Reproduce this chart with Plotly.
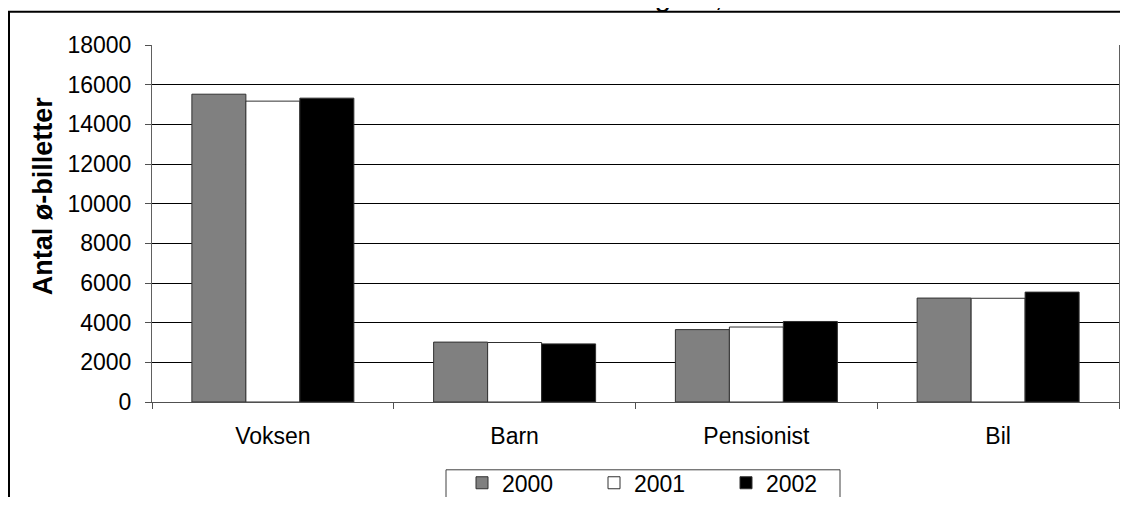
import plotly.graph_objects as go

categories = ["Voksen", "Barn", "Pensionist", "Bil"]
years = ["2000", "2001", "2002"]
values_2000 = [15520, 3020, 3650, 5240]
values_2001 = [15170, 3000, 3780, 5230]
values_2002 = [15320, 2930, 4060, 5540]
series_values = [values_2000, values_2001, values_2002]
bar_colors = ["#808080", "#ffffff", "#000000"]
y_tick_values = [0, 2000, 4000, 6000, 8000, 10000, 12000, 14000, 16000, 18000]
y_tick_labels = [str(v) for v in y_tick_values]
y_title = "Antal ø-billetter"
chart_title = "Antal ø-billetter til borgere, 2000-2002"

FONT = "Liberation Sans, Arial, sans-serif"

fig = go.Figure()
for name, vals, col in zip(years, series_values, bar_colors):
    fig.add_trace(go.Bar(
        x=categories, y=vals, name=name,
        marker=dict(color=col, line=dict(color="#303030", width=1)),
    ))

# The page body has an 8 px margin; size the figure so the page does not overflow.
OFF = 8
W, H = 1128 - 2 * OFF, 505 - 2 * OFF
# plot area in page pixels
PL, PR, PT, PB = 152, 1119, 44.7, 401.7
L = PL - OFF
T = PT - OFF
R = W - (PR - OFF)
B = H - (PB - OFF)
pw = PR - PL
ph = PB - PT

def px_x(x):
    return (x - PL) / pw

def px_y(y):
    return (PB - y) / ph

fig.update_layout(
    width=W, height=H,
    margin=dict(l=L, r=R, t=T, b=B, pad=0, autoexpand=False),
    paper_bgcolor="white", plot_bgcolor="white",
    font=dict(family=FONT, size=23, color="black"),
    barmode="group", bargap=0.33, bargroupgap=0,
    showlegend=True,
    legend=dict(
        orientation="h", x=px_x(462), y=px_y(461), xanchor="left", yanchor="top",
        bgcolor="rgba(0,0,0,0)", borderwidth=0,
        font=dict(family=FONT, size=23, color="black"),
        entrywidth=87, entrywidthmode="pixels",
        traceorder="normal",
    ),
    xaxis=dict(
        type="category", range=[-0.5, 3.5],
        showline=True, linecolor="#505050", linewidth=1,
        ticks="outside", tickson="boundaries", ticklen=6, tickcolor="#505050",
        showgrid=False, ticklabelstandoff=13,
        tickfont=dict(family=FONT, size=23, color="black"),
    ),
    yaxis=dict(
        range=[0, 18000], tickvals=y_tick_values, ticktext=y_tick_labels,
        showline=True, linecolor="#606060", linewidth=1, mirror=True,
        ticks="outside", ticklen=6, tickcolor="#505050",
        showgrid=True, gridcolor="#000000", gridwidth=1,
        zeroline=False, ticklabelstandoff=9,
        tickfont=dict(family=FONT, size=23, color="black"),
    ),
    annotations=[
        dict(text=y_title, xref="paper", yref="paper",
             x=px_x(43), y=px_y(196), xanchor="center", yanchor="middle",
             textangle=-90, showarrow=False,
             font=dict(family=FONT, size=27, color="black", weight="bold")),
        dict(text=chart_title, xref="paper", yref="paper",
             x=px_x(369), y=px_y(14), xanchor="left", yanchor="bottom",
             showarrow=False,
             font=dict(family=FONT, size=30, color="black")),
    ],
    shapes=[
        dict(type="rect", xref="paper", yref="paper",
             x0=px_x(9), x1=px_x(1160), y0=px_y(540), y1=px_y(11.5),
             line=dict(color="black", width=2), fillcolor="rgba(0,0,0,0)", layer="below"),
        dict(type="rect", xref="paper", yref="paper",
             x0=px_x(446), x1=px_x(840), y0=px_y(540), y1=px_y(469.5),
             line=dict(color="#404040", width=1), fillcolor="rgba(0,0,0,0)"),
    ],
)

fig.write_html("out.html")
